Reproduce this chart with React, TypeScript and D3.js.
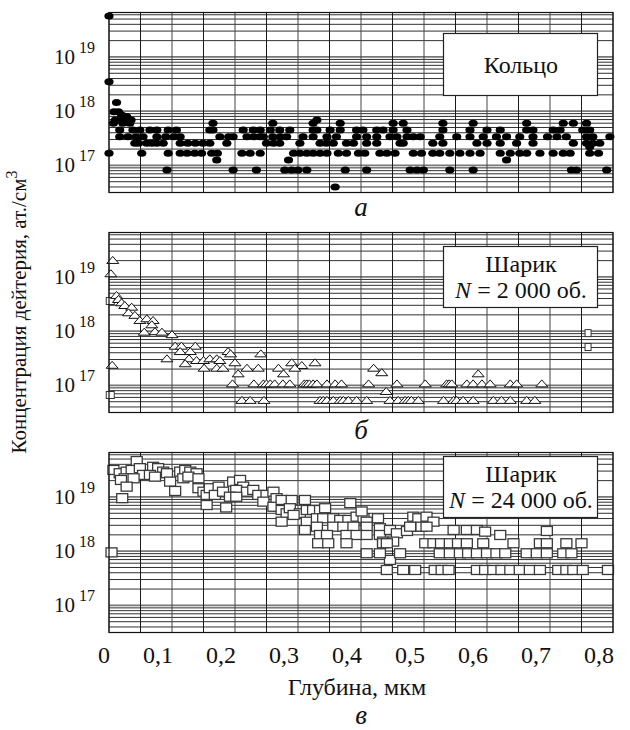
import React from 'react';
import * as d3 from 'd3';

// x axis
const depthTicks = [0, 0.1, 0.2, 0.3, 0.4, 0.5, 0.6, 0.7, 0.8];
const depthTickLabels = ['0', '0,1', '0,2', '0,3', '0,4', '0,5', '0,6', '0,7', '0,8'];
const decades = [17, 18, 19];
const panelLetters = ['а', 'б', 'в'];

// panel а — ring (depth, concentration)
const ringPoints: [number, number][] = [
  [0, 5.7e19], [0, 3.5e18], [0.012, 1.44e18], [0.008, 9.8e17], [0.015, 9.8e17], [0.02, 8.5e17],
  [0.028, 8.0e17], [0.01, 6.9e17], [0.022, 6.9e17], [0.035, 6.9e17], [0.33, 6.9e17],
  [0.171, 1.26e17], [0.285, 1.26e17], [0.631, 1.26e17], [0.763, 2.2e17], [0.359, 4e16],
];
const ringLow = [0, 0.052, 0.094, 0.113, 0.124, 0.136, 0.147, 0.163, 0.172, 0.211, 0.224, 0.24, 0.293, 0.303, 0.314, 0.324, 0.335, 0.346, 0.364, 0.377, 0.396, 0.406, 0.43, 0.441, 0.454, 0.483, 0.496, 0.514, 0.525, 0.541, 0.557, 0.573, 0.589, 0.621, 0.637, 0.652, 0.663, 0.684, 0.705, 0.721, 0.732, 0.763, 0.777];
const ringBottom = [0.092, 0.197, 0.234, 0.279, 0.29, 0.3, 0.314, 0.375, 0.409, 0.478, 0.489, 0.499, 0.541, 0.578, 0.734, 0.742, 0.79];
const ringMid1 = [0.041, 0.047, 0.06, 0.068, 0.076, 0.086, 0.113, 0.125, 0.137, 0.149, 0.16, 0.187, 0.25, 0.261, 0.271, 0.303, 0.335, 0.345, 0.356, 0.377, 0.388, 0.409, 0.425, 0.462, 0.467, 0.514, 0.53, 0.584, 0.6, 0.621, 0.647, 0.673, 0.737, 0.758, 0.768, 0.779];
const ringMid2 = [0.017, 0.03, 0.043, 0.054, 0.076, 0.09, 0.103, 0.113, 0.176, 0.19, 0.197, 0.219, 0.23, 0.24, 0.245, 0.26, 0.272, 0.282, 0.308, 0.324, 0.346, 0.361, 0.393, 0.409, 0.425, 0.446, 0.457, 0.473, 0.483, 0.494, 0.525, 0.552, 0.573, 0.594, 0.615, 0.631, 0.652, 0.673, 0.696, 0.711, 0.726, 0.758, 0.768, 0.795];
const ringMid3 = [0.017, 0.038, 0.049, 0.065, 0.076, 0.094, 0.107, 0.16, 0.165, 0.213, 0.229, 0.24, 0.256, 0.271, 0.287, 0.324, 0.33, 0.351, 0.367, 0.393, 0.403, 0.425, 0.435, 0.451, 0.473, 0.53, 0.573, 0.6, 0.621, 0.663, 0.673, 0.705, 0.716, 0.752, 0.763];
const ringHigh = [0.007, 0.022, 0.033, 0.165, 0.26, 0.324, 0.367, 0.451, 0.467, 0.53, 0.578, 0.663, 0.721, 0.737, 0.758];
const ringRowLevels = [1.67e17, 8.2e16, 2.56e17, 3.39e17, 4.5e17, 5.98e17];

// panel б — ball, N = 2000
const ball2kPoints: [number, number][] = [
  [0.006, 2.06e19], [0.003, 1.17e19], [0.012, 4.66e18], [0.015, 3.93e18], [0.02, 3.41e18], [0.025, 3.04e18],
  [0.036, 2.83e18], [0.031, 2.23e18], [0.041, 2.0e18], [0.049, 1.61e18], [0.06, 1.73e18], [0.07, 1.61e18],
  [0.068, 1.34e18], [0.056, 9.8e17], [0.073, 1.0e18], [0.084, 9.8e17], [0.1, 8.8e17], [0.105, 5.4e17],
  [0.115, 5.4e17], [0.137, 5.4e17], [0.113, 4.3e17], [0.129, 4.3e17], [0.092, 3.16e17], [0.127, 3.16e17],
  [0.121, 2.56e17], [0.139, 2.94e17], [0.15, 2.94e17], [0.16, 3.16e17], [0.171, 3.16e17], [0.151, 2.12e17],
  [0.171, 2.12e17], [0.181, 2.12e17], [0.176, 2.94e17], [0.189, 4.3e17], [0.193, 3.9e17], [0.2, 2.67e17],
  [0.205, 1.67e17], [0.219, 2.12e17], [0.237, 2.12e17], [0.241, 3.9e17], [0.269, 2.12e17], [0.277, 1.67e17],
  [0.29, 2.67e17], [0.306, 2.38e17], [0.327, 2.67e17], [0.295, 2.12e17], [0.42, 2.12e17], [0.433, 1.75e17],
  [0.44, 7.9e16], [0.586, 1.67e17], [0.005, 2.4e17],
];
const ball2kRowA = [0.196, 0.23, 0.245, 0.25, 0.256, 0.263, 0.276, 0.287, 0.31, 0.314, 0.318, 0.324, 0.33, 0.346, 0.359, 0.369, 0.412, 0.457, 0.502, 0.536, 0.54, 0.544, 0.568, 0.578, 0.592, 0.605, 0.637, 0.647, 0.687];
const ball2kRowB = [0.211, 0.224, 0.246, 0.335, 0.34, 0.346, 0.356, 0.367, 0.372, 0.38, 0.393, 0.409, 0.446, 0.459, 0.47, 0.475, 0.48, 0.491, 0.531, 0.547, 0.552, 0.562, 0.578, 0.61, 0.623, 0.637, 0.663, 0.676];
const ball2kRowLevels = [1.09e17, 5.4e16];
const ball2kSquares: [number, number][] = [[0.002, 3.6e18], [0.002, 6.65e16], [0.762, 9.2e17], [0.762, 5.1e17]];

// panel в — ball, N = 24000
const ball24kPoints: [number, number][] = [
  [0.044, 4.6e19], [0.007, 3.15e19], [0.017, 2.74e19], [0.028, 2.93e19], [0.036, 3.15e19], [0.049, 3.4e19],
  [0.054, 2.55e19], [0.025, 2.21e19], [0.039, 2.21e19], [0.019, 2.06e19], [0.028, 1.55e19], [0.021, 9.5e18],
  [0.07, 3.6e19], [0.078, 3.4e19], [0.086, 2.93e19], [0.092, 2.74e19], [0.065, 2.55e19], [0.073, 2.37e19],
  [0.097, 1.92e19], [0.105, 1.29e19], [0.113, 2.93e19], [0.121, 3.15e19], [0.129, 2.93e19], [0.139, 2.74e19],
  [0.118, 2.21e19], [0.126, 2.37e19], [0.142, 2.21e19], [0.142, 1.45e19], [0.15, 1.25e19], [0.155, 1.09e19],
  [0.155, 7.1e18], [0.186, 6.4e18], [0.16, 1.45e19], [0.174, 1.55e19], [0.168, 1.09e19], [0.181, 1.25e19],
  [0.197, 1.92e19], [0.208, 2.06e19], [0.213, 1.55e19], [0.202, 1.35e19], [0.219, 1.25e19], [0.192, 1.01e19],
  [0.202, 1.01e19], [0.229, 1.35e19], [0.237, 1.09e19], [0.25, 1.09e19], [0.261, 1.25e19], [0.266, 9.5e18],
  [0.245, 8.2e18], [0.261, 6.6e18], [0.274, 8.8e18], [0.29, 8.8e18], [0.274, 5.75e18], [0.282, 5.0e18],
  [0.274, 3.5e18], [0.287, 6.2e18], [0.303, 5.0e18], [0.311, 8.8e18], [0.314, 5.75e18], [0.324, 5.75e18],
  [0.335, 5.75e18], [0.343, 6.2e18], [0.293, 4.66e18], [0.314, 3.5e18], [0.33, 4.05e18], [0.34, 4.05e18],
  [0.356, 4.05e18], [0.367, 3.77e18], [0.38, 3.77e18], [0.393, 4.33e18], [0.404, 4.05e18], [0.409, 3.5e18],
  [0.427, 4.05e18], [0.311, 2.46e18], [0.33, 2.83e18], [0.356, 2.83e18], [0.372, 2.83e18], [0.388, 2.83e18],
  [0.409, 2.83e18], [0.43, 2.65e18], [0.335, 1.99e18], [0.346, 1.99e18], [0.377, 1.99e18], [0.393, 1.99e18],
  [0.409, 1.99e18], [0.43, 1.99e18], [0.446, 2.46e18], [0.383, 7.7e18], [0.401, 5.4e18], [0.457, 2.14e18],
  [0.473, 2.36e18], [0.489, 2.83e18], [0.502, 4.05e18], [0.004, 9.5e17], [0.446, 6.9e17], [0.435, 1.5e18],
  [0.451, 1.5e18], [0.483, 4.33e18], [0.491, 4.05e18], [0.504, 4.33e18], [0.515, 3.5e18], [0.478, 2.83e18],
  [0.496, 2.83e18], [0.504, 2.83e18], [0.547, 2.46e18], [0.568, 2.46e18], [0.584, 2.46e18], [0.597, 2.29e18],
  [0.621, 1.99e18], [0.695, 2.36e18],
];
const ball24kRowA = [0.332, 0.348, 0.377, 0.435, 0.441, 0.502, 0.515, 0.527, 0.541, 0.554, 0.568, 0.594, 0.642, 0.684, 0.695, 0.726, 0.75];
const ball24kRowB = [0.409, 0.43, 0.462, 0.525, 0.541, 0.557, 0.57, 0.584, 0.6, 0.615, 0.629, 0.663, 0.679, 0.695, 0.721, 0.734];
const ball24kRowC = [0.441, 0.467, 0.486, 0.517, 0.528, 0.539, 0.584, 0.597, 0.61, 0.623, 0.637, 0.652, 0.668, 0.684, 0.713, 0.726, 0.737, 0.752, 0.792];
const ball24kRowLevels = [1.4e18, 9.15e17, 4.5e17];

const FONT = '"Liberation Serif"';
const W = 630;
const H = 730;
const panelTops = [12.5, 232.5, 452.5];
const panelH = 180;

const x = d3.scaleLinear().domain([0, 0.8]).range([109, 613]);
const makeY = (top: number) =>
  d3.scaleLog().domain([Math.pow(10, 16.5), Math.pow(10, 19.82)]).range([top + panelH, top]);

const rows = (depths: number[][], levels: number[]): [number, number][] =>
  depths.flatMap((ds, i) => ds.map(d => [d, levels[i]] as [number, number]));

const isDecade = (v: number) => Math.abs(Math.log10(v) - Math.round(Math.log10(v))) < 1e-6;

function Grid({ y, top }: { y: d3.ScaleLogarithmic<number, number>; top: number }) {
  const [lo, hi] = y.domain();
  const minor: number[] = [];
  for (let n = 16; n <= 19; n++) {
    for (let k = 1; k <= 9; k++) {
      const v = k * Math.pow(10, n);
      if (v > lo && v < hi) minor.push(v);
    }
  }
  const vlines = d3.range(0, 0.8001, 0.05);
  return (
    <g>
      {minor.map((v, i) => (
        <line key={'h' + i} x1={x(0)} x2={x(0.8)} y1={y(v)} y2={y(v)}
          stroke={isDecade(v) ? '#777' : '#1a1a1a'}
          strokeWidth={isDecade(v) ? 1.8 : 0.9} />
      ))}
      {vlines.map((v, i) => (
        <line key={'v' + i} x1={x(v)} x2={x(v)} y1={top} y2={top + panelH}
          stroke={i % 2 === 0 ? '#444' : '#1a1a1a'} strokeWidth={1} />
      ))}
    </g>
  );
}

function YLabels({ y }: { y: d3.ScaleLogarithmic<number, number> }) {
  return (
    <g fill="#111">
      {decades.map(d => (
        <text key={d} x={54} y={y(Math.pow(10, d)) + 7} fontSize={21} style={{ fontFamily: FONT }}>
          10<tspan dx={4} dy={-11} fontSize={16}>{d}</tspan>
        </text>
      ))}
    </g>
  );
}

function Legend({ top, lines }: { top: number; lines: React.ReactNode[] }) {
  const h = lines.length === 1 ? 62 : 61;
  return (
    <g fill="#111" textAnchor="middle">
      <rect x={443.5} y={top} width={154} height={h} fill="#fff" stroke="#222" strokeWidth={1.2} />
      {lines.map((l, i) => (
        <text key={i} x={521} y={lines.length === 1 ? top + 39 : top + 25 + i * 26}
          fontSize={24} style={{ fontFamily: FONT }}>{l}</text>
      ))}
    </g>
  );
}

export default function App() {
  const [ya, yb, yc] = panelTops.map(makeY);

  const ringAll = [
    ...rows([ringLow, ringBottom, ringMid1, ringMid2, ringMid3, ringHigh], ringRowLevels),
    ...ringPoints,
  ];
  const b2kAll = [...ball2kPoints, ...rows([ball2kRowA, ball2kRowB], ball2kRowLevels)];
  const b24kAll = [...ball24kPoints, ...rows([ball24kRowA, ball24kRowB, ball24kRowC], ball24kRowLevels)];

  const tri = (cx: number, cy: number) =>
    `M${cx - 6},${cy + 3.5}L${cx},${cy - 3.5}L${cx + 6},${cy + 3.5}Z`;

  return (
    <svg width={W} height={H} style={{ display: 'block', position: 'absolute', left: 0, top: 0, background: '#fff' }}>
      <rect width={W} height={H} fill="#fff" />

      {/* panel а */}
      <Grid y={ya} top={panelTops[0]} />
      <g>
        {ringAll.map(([d, c], i) => (
          <ellipse key={i} cx={x(d)} cy={ya(c)} rx={4.6} ry={3.5} fill="#000" />
        ))}
      </g>
      <Legend top={33.5} lines={['Кольцо']} />
      <rect x={x(0)} y={panelTops[0]} width={x(0.8) - x(0)} height={panelH} fill="none" stroke="#111" strokeWidth={1.2} />
      <YLabels y={ya} />

      {/* panel б */}
      <Grid y={yb} top={panelTops[1]} />
      <g>
        {ball2kSquares.map(([d, c], i) => (
          <rect key={i} x={x(d) - 4} y={yb(c) - 3.5} width={i < 2 ? 8 : 6} height={7} fill="#fff" stroke="#333" strokeWidth={1} />
        ))}
        {b2kAll.map(([d, c], i) => (
          <path key={i} d={tri(x(d), yb(c))} fill="#fff" stroke="#111" strokeWidth={1} />
        ))}
      </g>
      <Legend top={246.5} lines={[
        'Шарик',
        <><tspan fontStyle="italic">N</tspan> = 2 000 об.</>,
      ]} />
      <rect x={x(0)} y={panelTops[1]} width={x(0.8) - x(0)} height={panelH} fill="none" stroke="#111" strokeWidth={1.2} />
      <YLabels y={yb} />

      {/* panel в */}
      <Grid y={yc} top={panelTops[2]} />
      <g>
        {b24kAll.map(([d, c], i) => (
          <rect key={i} x={x(d) - 5.5} y={yc(c) - 4.5} width={11} height={9} fill="#fff" stroke="#3a3a3a" strokeWidth={1.3} />
        ))}
      </g>
      <Legend top={456.5} lines={[
        'Шарик',
        <><tspan fontStyle="italic">N</tspan> = 24 000 об.</>,
      ]} />
      <rect x={x(0)} y={panelTops[2]} width={x(0.8) - x(0)} height={panelH} fill="none" stroke="#111" strokeWidth={1.2} />
      <YLabels y={yc} />

      {/* x tick labels */}
      <g fill="#111" textAnchor="end">
        {depthTicks.map((t, i) => (
          <text key={t} x={x(t) + 1} y={663} fontSize={24} style={{ fontFamily: FONT }}>{depthTickLabels[i]}</text>
        ))}
      </g>
      <text x={357} y={695} fontSize={24} textAnchor="middle" fill="#111" style={{ fontFamily: FONT }}>Глубина, мкм</text>

      {/* panel letters */}
      <g fontStyle="italic" textAnchor="middle" fill="#111">
        {panelLetters.map((l, i) => (
          <text key={l} x={361} y={[216, 439, 724][i]} fontSize={27} style={{ fontFamily: FONT }}>{l}</text>
        ))}
      </g>

      {/* y title */}
      <text transform="translate(26,312) rotate(-90)" fontSize={21} textAnchor="middle" fill="#111" style={{ fontFamily: FONT }}>
        Концентрация дейтерия, ат./см<tspan dy={-9} fontSize={16}>3</tspan>
      </text>
    </svg>
  );
}
